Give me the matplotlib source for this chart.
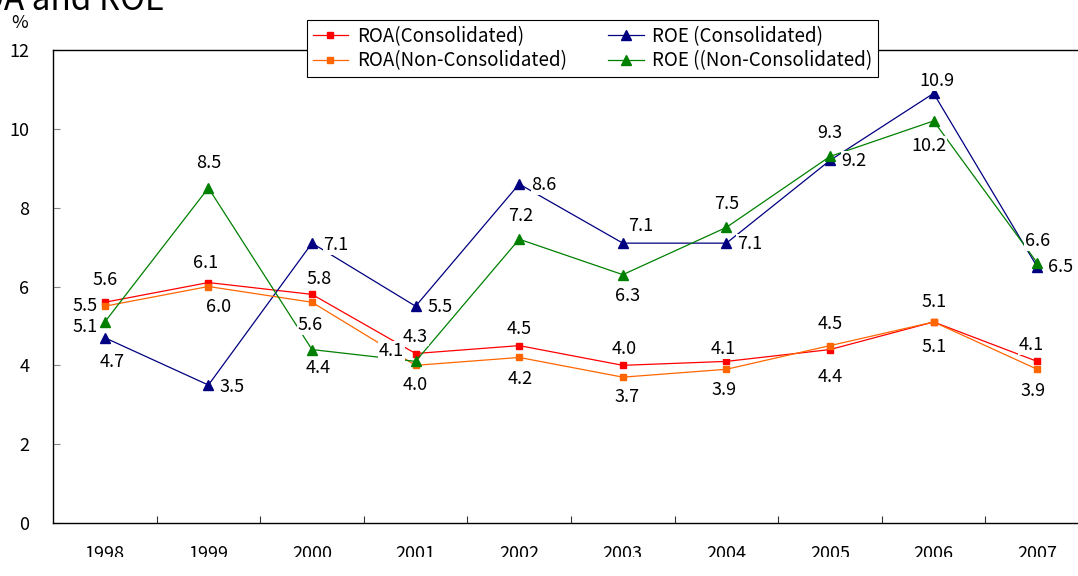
import matplotlib
matplotlib.use("Agg")
import matplotlib.pyplot as plt
from matplotlib.patches import Rectangle

plt.rcParams['font.family'] = ['Noto Sans CJK JP', 'DejaVu Sans']

years = ['1998', '1999', '2000', '2001', '2002', '2003', '2004', '2005', '2006', '2007']
roa_cons = [5.6, 6.1, 5.8, 4.3, 4.5, 4.0, 4.1, 4.4, 5.1, 4.1]
roa_noncons = [5.5, 6.0, 5.6, 4.0, 4.2, 3.7, 3.9, 4.5, 5.1, 3.9]
roe_cons = [4.7, 3.5, 7.1, 5.5, 8.6, 7.1, 7.1, 9.2, 10.9, 6.5]
roe_noncons = [5.1, 8.5, 4.4, 4.1, 7.2, 6.3, 7.5, 9.3, 10.2, 6.6]
yticks = [0, 2, 4, 6, 8, 10, 12]

# label offsets in pixels (dx, dy up)
off_roa_c = [(0, 22), (-3, 20), (7, 15), (0, 17), (0, 17), (1, 16), (-3, 12), (0, -27), (0, -25), (-6, 16)]
off_roa_n = [(-20, 0), (10, -21), (-2, -23), (0, -20), (1, -22), (4, -20), (-2, -21), (0, 22), (0, 20), (-4, -22)]
off_roe_c = [(7, -24), (24, -2), (24, -2), (24, -1), (25, -1), (18, 17), (23, -1), (24, -1), (3, 12), (23, 0)]
off_roe_n = [(-20, -5), (0, 25), (6, -18), (-24, 10), (1, 23), (5, -21), (0, 23), (0, 23), (-5, -25), (0, 22)]

W, H = 1078, 576
fig = plt.figure(figsize=(W / 100, H / 100), dpi=100)
ax = fig.add_axes([53 / W, (H - 523) / H, 1036 / W, (523 - 50) / H])

x = list(range(len(years)))
series = [
    (roa_cons, 'ROA(Consolidated)', '#FF0000', 's', 5, off_roa_c),
    (roe_cons, 'ROE (Consolidated)', '#000080', '^', 7, off_roe_c),
    (roa_noncons, 'ROA(Non-Consolidated)', '#FF6600', 's', 5, off_roa_n),
    (roe_noncons, 'ROE ((Non-Consolidated)', '#008000', '^', 7, off_roe_n),
]
handles = []
for vals, lab, col, mk, ms, offs in series:
    h, = ax.plot(x, vals, color=col, lw=0.9, marker=mk, markersize=ms,
                 markeredgecolor=col, markerfacecolor=col, label=lab, zorder=3)
    handles.append(h)

for vals, lab, col, mk, ms, offs in series:
    for xi, v, (dx, dy) in zip(x, vals, offs):
        ax.annotate(f'{v:.1f}', (xi, v), xytext=(dx * 0.72, dy * 0.72),
                    textcoords='offset points', ha='center', va='center',
                    fontsize=13, color='black', zorder=4,
                    bbox=dict(boxstyle='square,pad=0.05', fc='white', ec='none'))

ax.set_xlim(-0.5, len(years) - 0.5)
ax.set_ylim(0, 12)
ax.set_yticks(yticks)
ax.set_yticklabels([str(t) for t in yticks])
ax.set_xticks(x)
ax.set_xticklabels(years)
ax.set_xticks([i + 0.5 for i in x[:-1]], minor=True)
ax.tick_params(axis='x', which='major', length=0, pad=16, labelsize=13)
ax.tick_params(axis='x', which='minor', length=5, direction='in', color='#333333', width=0.8)
ax.tick_params(axis='y', which='major', length=5, direction='in', color='#888888', width=0.8,
               pad=17, labelsize=13)
for s in ['left', 'bottom', 'top']:
    ax.spines[s].set_color('black')
    ax.spines[s].set_linewidth(1.0)
ax.spines['right'].set_visible(False)

fig.text(20 / W, 1 - 23 / H, '%', ha='center', va='center', fontsize=13)
fig.text(165 / W, 1 - 10 / H, 'ROA and ROE', ha='right', va='baseline', fontsize=24)

order = [handles[0], handles[2], handles[1], handles[3]]
leg = fig.legend(handles=order, labels=[h.get_label() for h in order],
                 loc='upper left', bbox_to_anchor=(307 / W, 1 - 20 / H), ncol=2,
                 frameon=True, fancybox=False, edgecolor='black', framealpha=1,
                 fontsize=13.5, handlelength=1.9, handletextpad=0.45,
                 columnspacing=2.2, labelspacing=0.2, borderpad=0.3, borderaxespad=0)
leg.get_frame().set_linewidth(0.8)

fig.add_artist(Rectangle((0, 0), 1, 19 / H, transform=fig.transFigure,
                         facecolor='white', edgecolor='none', zorder=10))

fig.savefig('out.png', dpi=100)
